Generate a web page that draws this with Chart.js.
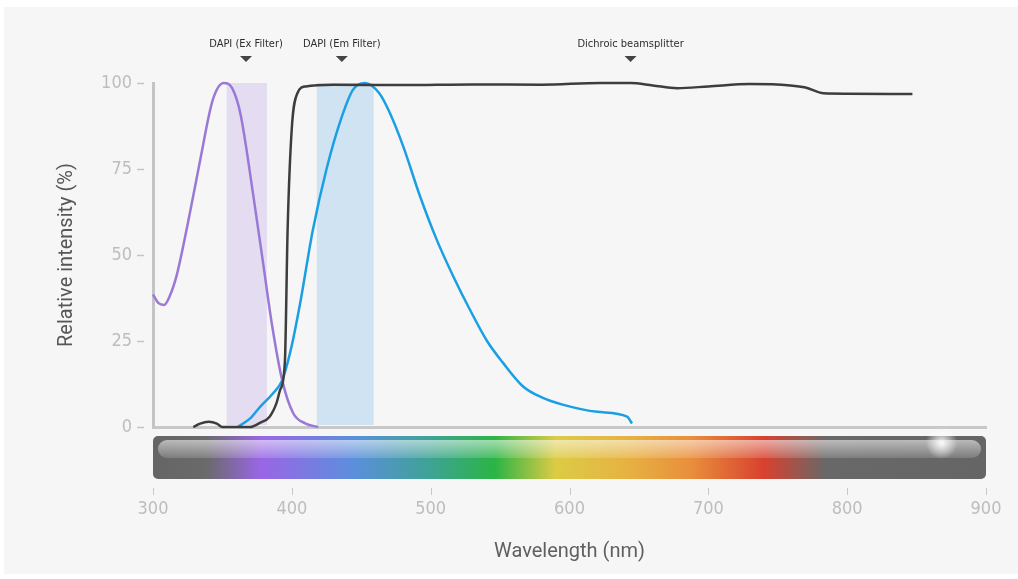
<!DOCTYPE html>
<html>
<head>
<meta charset="utf-8">
<title>DAPI filter set spectra</title>
<script src="https://cdn.jsdelivr.net/npm/chart.js"></script>
<style>
  html, body { margin: 0; padding: 0; background: #fff; overflow: hidden; }
  #wrap { position: relative; width: 1018px; height: 579px; }
</style>
</head>
<body>
<div id="wrap"><canvas id="spectraChart"></canvas></div>
<script>
// DAPI filter set - excitation / emission / dichroic curves

const xTicks = [300, 400, 500, 600, 700, 800, 900];
const yTicks = [0, 25, 50, 75, 100];

// DAPI excitation (purple)
const exNm  = [300, 304, 308, 312, 317, 325, 334, 343, 351, 357, 363, 372, 379, 386, 393, 401, 410, 419];
const exVal = [38.5, 36, 35.5, 38, 44, 59, 77.6, 95, 100, 98.5, 91, 68, 48.5, 29, 13.7, 4, 1, 0];

// dichroic beamsplitter transmission (dark grey)
const dcNm  = [329, 334, 340, 346, 350, 370, 377, 384, 389, 391.5, 395, 397, 400, 404, 410, 430, 480, 530, 580, 622, 644, 660, 677.5, 700, 730, 759, 770, 783, 800, 847];
const dcVal = [0, 1, 1.5, 1, 0, 0, 1.2, 3, 7, 10.7, 19, 58, 87, 97, 99, 99.5, 99.4, 99.6, 99.5, 100, 100, 99.3, 98.5, 99, 99.7, 99.3, 98.7, 97, 96.9, 96.8];

// DAPI emission (blue)
const emNm  = [361, 370, 377, 386.5, 393, 399, 406, 415, 425, 435, 444, 452.7, 463, 470.7, 480.3, 492.4, 504.4, 516.4, 528.4, 540.6, 552.4, 566.8, 580, 595, 620, 641.5, 645];
const emVal = [0, 2.5, 5.8, 9.8, 13.5, 22, 36, 57, 75, 89, 98, 100, 97, 91.2, 81.5, 67, 54.4, 43.7, 34, 25, 18.5, 11.7, 8.6, 6.5, 4.4, 3, 1];

// filter pass bands (nm)
const filterFrom = [353, 418];
const filterTo   = [382, 459];

// markers on top
const markerLabels = ["DAPI (Ex Filter)", "DAPI (Em Filter)", "Dichroic beamsplitter"];
const markerNm     = [367, 436, 644];

// colour strip under the axis
const spectrumNm     = [300, 338, 378, 445, 500, 546, 590, 640, 687, 740, 785, 900];
const spectrumColors = ["#656565", "#6a6a6a", "#9a66e6", "#5b8fdc", "#3ea394", "#2bb445", "#dccb45", "#e6b342", "#e98f3c", "#d8412f", "#686868", "#656565"];

const filterColors = ["rgba(200, 180, 235, 0.38)", "rgba(160, 205, 240, 0.45)"];

function toPoints(xs, ys) {
  return xs.map((x, i) => ({ x: x, y: ys[i] }));
}

const narrowFont = "'Liberation Sans Narrow', 'DejaVu Sans Condensed', 'Roboto', sans-serif";

const decor = {
  id: "decor",
  beforeDraw(chart) {
    const c = chart.ctx;
    c.save();
    c.fillStyle = "#ffffff";
    c.fillRect(0, 0, chart.width, chart.height);
    c.fillStyle = "#f6f6f6";
    c.fillRect(4, 7, chart.width - 4, chart.height - 12);
    c.restore();
  },
  beforeDatasetsDraw(chart) {
    const c = chart.ctx;
    const x = chart.scales.x, y = chart.scales.y;
    const top = y.getPixelForValue(100), bot = y.getPixelForValue(0) - 2;
    c.save();
    filterFrom.forEach((f, i) => {
      const x0 = x.getPixelForValue(f), x1 = x.getPixelForValue(filterTo[i]);
      c.fillStyle = filterColors[i];
      c.fillRect(x0, top, x1 - x0, bot - top);
    });
    c.restore();
  },
  afterDraw(chart) {
    const c = chart.ctx;
    const x = chart.scales.x, y = chart.scales.y;
    const area = chart.chartArea;
    c.save();

    // little dashes left of the y axis
    c.strokeStyle = "#c4c4c4";
    c.lineWidth = 1.5;
    yTicks.forEach(v => {
      const py = Math.round(y.getPixelForValue(v)) + 0.5;
      c.beginPath();
      c.moveTo(area.left - 16, py);
      c.lineTo(area.left - 9, py);
      c.stroke();
    });

    // spectrum strip
    const sx0 = x.getPixelForValue(300), sx1 = x.getPixelForValue(900);
    const sy0 = area.bottom + 9, sh = 43;
    const grad = c.createLinearGradient(sx0, 0, sx1, 0);
    spectrumNm.forEach((nm, i) => {
      grad.addColorStop((nm - 300) / 600, spectrumColors[i]);
    });
    c.fillStyle = grad;
    c.beginPath();
    c.roundRect(sx0, sy0, sx1 - sx0, sh, 5);
    c.fill();

    // glossy highlight
    const hl = c.createLinearGradient(0, sy0 + 4, 0, sy0 + 22);
    hl.addColorStop(0, "rgba(255,255,255,0.55)");
    hl.addColorStop(1, "rgba(255,255,255,0.15)");
    c.fillStyle = hl;
    c.beginPath();
    c.roundRect(sx0 + 5, sy0 + 4, sx1 - sx0 - 10, 18, 9);
    c.fill();

    // glare near the right end
    const gx = x.getPixelForValue(868), gy = sy0 + 7;
    const rg = c.createRadialGradient(gx, gy, 0, gx, gy, 16);
    rg.addColorStop(0, "rgba(255,255,255,0.95)");
    rg.addColorStop(1, "rgba(255,255,255,0)");
    c.fillStyle = rg;
    c.fillRect(gx - 16, gy - 16, 32, 32);

    // x tick marks below the strip
    c.strokeStyle = "#c8c8c8";
    c.lineWidth = 1;
    xTicks.forEach(v => {
      const px = Math.round(x.getPixelForValue(v)) + 0.5;
      c.beginPath();
      c.moveTo(px, sy0 + sh + 9);
      c.lineTo(px, sy0 + sh + 16);
      c.stroke();
    });

    // markers at the top
    c.font = "11px " + narrowFont;
    c.textAlign = "center";
    c.textBaseline = "middle";
    markerNm.forEach((nm, i) => {
      const px = x.getPixelForValue(nm);
      c.fillStyle = "#2e2e2e";
      c.fillText(markerLabels[i], px, 44);
      c.fillStyle = "#444";
      c.beginPath();
      c.moveTo(px - 6, 56);
      c.lineTo(px + 6, 56);
      c.lineTo(px, 62);
      c.closePath();
      c.fill();
    });

    c.restore();
  }
};

const lineStyle = {
  pointRadius: 0,
  borderWidth: 2.5,
  fill: false,
  cubicInterpolationMode: "monotone",
  clip: false
};

new Chart(document.getElementById("spectraChart"), {
  type: "line",
  data: {
    datasets: [
      Object.assign({ label: "Dichroic beamsplitter", data: toPoints(dcNm, dcVal), borderColor: "#3d3d3d" }, lineStyle),
      Object.assign({ label: "DAPI excitation", data: toPoints(exNm, exVal), borderColor: "#9a78d6" }, lineStyle),
      Object.assign({ label: "DAPI emission", data: toPoints(emNm, emVal), borderColor: "#1b9fe4" }, lineStyle)
    ]
  },
  options: {
    responsive: true,
    maintainAspectRatio: false,
    animation: false,
    layout: { padding: { top: 83, right: 32, bottom: 0, left: 0 } },
    plugins: {
      legend: { display: false },
      tooltip: { enabled: false }
    },
    scales: {
      x: {
        type: "linear",
        min: 300,
        max: 900,
        afterBuildTicks(scale) { scale.ticks = xTicks.map(v => ({ value: v })); },
        afterFit(scale) { scale.height = 152; },
        ticks: { padding: 0, color: "#bdbdbd", font: { family: narrowFont, size: 18 } },
        // invisible tick marks push the labels below the colour strip
        grid: { drawOnChartArea: false, drawTicks: true, tickLength: 72, tickColor: "rgba(0,0,0,0)" },
        border: { color: "#c8c8c8", width: 3 },
        title: {
          display: true,
          text: "Wavelength (nm)",
          color: "#606060",
          font: { family: "Roboto", size: 20 },
          padding: { top: 0, bottom: 15 }
        }
      },
      y: {
        min: 0,
        max: 100,
        afterBuildTicks(scale) { scale.ticks = yTicks.map(v => ({ value: v })); },
        afterFit(scale) { scale.width = 153; },
        ticks: { padding: 21, color: "#bdbdbd", font: { family: narrowFont, size: 18 } },
        grid: { drawOnChartArea: false, drawTicks: false },
        border: { color: "#c4c4c4", width: 3 },
        title: {
          display: true,
          text: "Relative intensity (%)",
          color: "#575757",
          font: { family: "Roboto", size: 20 },
          padding: { top: 55, bottom: 0 }
        }
      }
    }
  },
  plugins: [decor]
});
</script>
</body>
</html>
